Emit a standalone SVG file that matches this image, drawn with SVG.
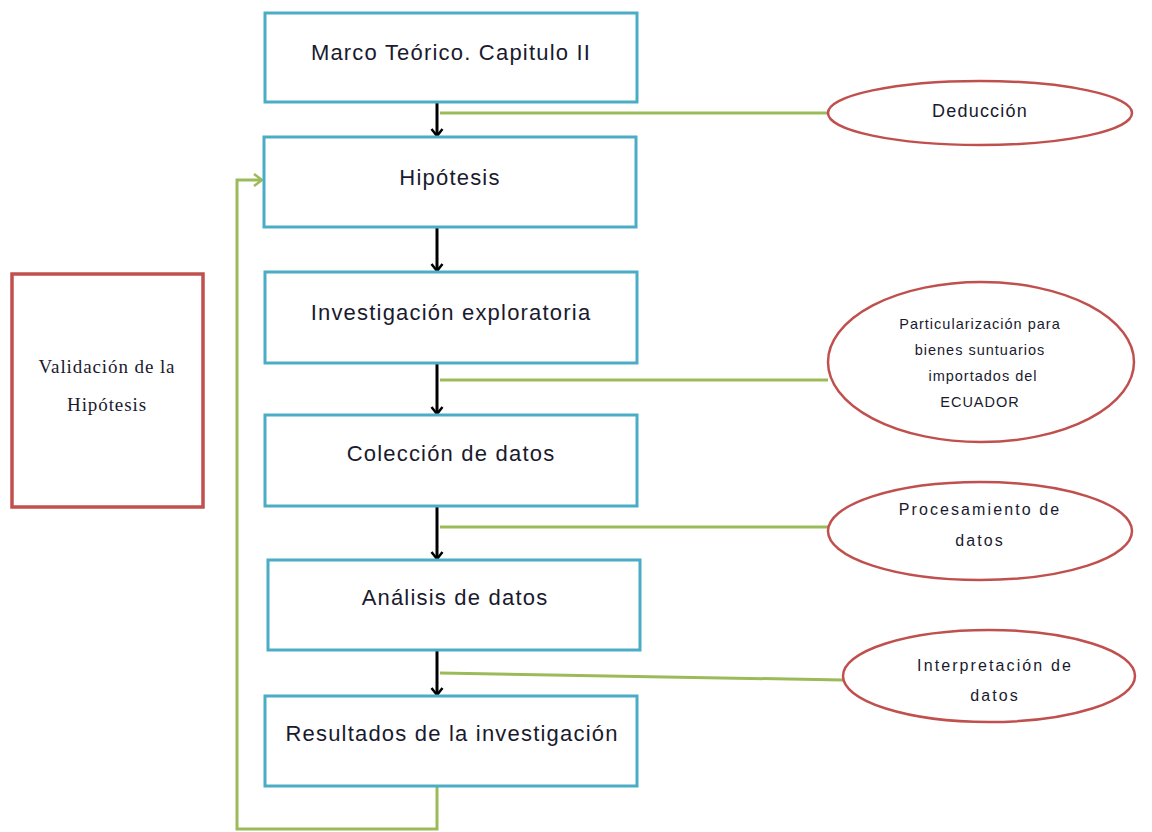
<svg xmlns="http://www.w3.org/2000/svg" width="1152" height="832" viewBox="0 0 1152 832">
<style>
.box{fill:#fff;stroke:#4bacc6;stroke-width:3}
.ell{fill:#fff;stroke:#c0504d;stroke-width:2.5}
.vbox{fill:#fff;stroke:#c0504d;stroke-width:3.5}
.t{font-family:"Liberation Sans",Arial,sans-serif;fill:#1a1a2e;text-anchor:middle}
.big{font-size:22px;letter-spacing:1.2px}
.mid{font-size:18px;letter-spacing:1.2px}
.sm{font-size:14.5px;letter-spacing:1px}
.nar{font-size:16px;letter-spacing:2.1px}
.ser{font-family:"Liberation Serif","Times New Roman",serif;font-size:19px;letter-spacing:0.9px;fill:#1a1a2e;text-anchor:middle}
.blk{fill:none;stroke:#000;stroke-width:3}
.grn{fill:none;stroke:#9bbb59;stroke-width:3}
</style>
<defs>
<marker id="ab" markerWidth="14" markerHeight="14" refX="11" refY="7" orient="auto" markerUnits="userSpaceOnUse" viewBox="0 0 14 14">
<path d="M4,1.5 L11,7 L4,12.5" fill="none" stroke="#000" stroke-width="2.5"/>
</marker>
<marker id="ag" markerWidth="14" markerHeight="14" refX="12" refY="7" orient="auto" markerUnits="userSpaceOnUse" viewBox="0 0 14 14">
<path d="M4,1 L12,7 L4,13" fill="none" stroke="#9bbb59" stroke-width="2.5"/>
</marker>
</defs>
<g id="connectors">
<line class="blk" x1="437" y1="102" x2="437" y2="136" marker-end="url(#ab)"/>
<line class="blk" x1="437" y1="227" x2="437" y2="271" marker-end="url(#ab)"/>
<line class="blk" x1="437" y1="363" x2="437" y2="414" marker-end="url(#ab)"/>
<line class="blk" x1="437" y1="506" x2="437" y2="559" marker-end="url(#ab)"/>
<line class="blk" x1="437" y1="650" x2="437" y2="695" marker-end="url(#ab)"/>
<line class="grn" x1="440" y1="113" x2="828" y2="113"/>
<line class="grn" x1="440" y1="380" x2="828" y2="380"/>
<line class="grn" x1="440" y1="527" x2="829" y2="527"/>
<line class="grn" x1="440" y1="673" x2="843" y2="680"/>
<polyline class="grn" points="437,786 437,829 237,829 237,180 262,180" marker-end="url(#ag)"/>
</g>
<g id="marco"><rect class="box" x="265" y="13" width="372" height="89"/><text class="t big" x="451" y="60">Marco Teórico. Capitulo II</text></g>
<g id="hipotesis"><rect class="box" x="264" y="137" width="372" height="90"/><text class="t big" x="450" y="185">Hipótesis</text></g>
<g id="exploratoria"><rect class="box" x="265" y="272" width="372" height="91"/><text class="t big" x="451" y="320">Investigación exploratoria</text></g>
<g id="coleccion"><rect class="box" x="265" y="415" width="372" height="91"/><text class="t big" x="451" y="461">Colección de datos</text></g>
<g id="analisis"><rect class="box" x="268" y="560" width="372" height="90"/><text class="t big" x="455" y="605">Análisis de datos</text></g>
<g id="resultados"><rect class="box" x="265" y="696" width="372" height="90"/><text class="t big" x="452" y="741">Resultados de la investigación</text></g>
<g id="validacion"><rect class="vbox" x="12" y="274" width="191" height="233"/><text class="ser" x="107" y="373">Validación de la</text><text class="ser" x="107" y="411">Hipótesis</text></g>
<g id="deduccion"><ellipse class="ell" cx="980" cy="113" rx="152" ry="32"/><text class="t mid" x="980" y="117">Deducción</text></g>
<g id="particularizacion"><ellipse class="ell" cx="981" cy="362" rx="153" ry="80"/>
<text class="t sm" x="980" y="329">Particularización para</text>
<text class="t sm" x="980" y="355">bienes suntuarios</text>
<text class="t sm" x="983" y="381">importados del</text>
<text class="t sm" x="980" y="407">ECUADOR</text></g>
<g id="procesamiento"><ellipse class="ell" cx="980" cy="531" rx="152" ry="49"/>
<text class="t nar" x="980" y="515">Procesamiento de</text>
<text class="t nar" x="980" y="546">datos</text></g>
<g id="interpretacion"><ellipse class="ell" cx="989" cy="676" rx="146" ry="46"/>
<text class="t nar" x="995" y="671">Interpretación de</text>
<text class="t nar" x="995" y="701">datos</text></g>
</svg>
